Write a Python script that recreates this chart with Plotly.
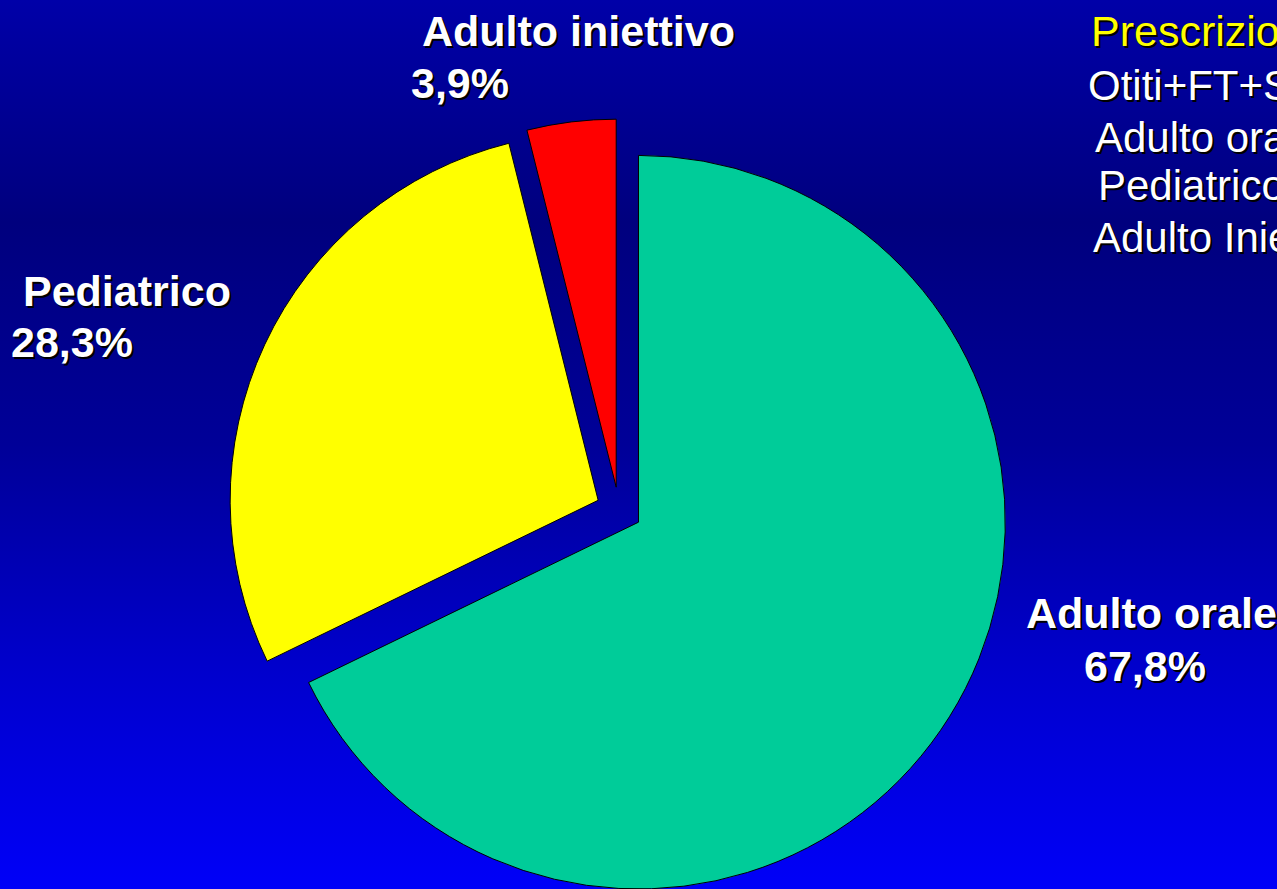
import base64
import math
import plotly.graph_objects as go

# --- data -------------------------------------------------------------
categories = ["Adulto orale", "Pediatrico", "Adulto iniettivo"]
shares = [67.8, 28.3, 3.9]
share_labels = ["67,8%", "28,3%", "3,9%"]
slice_colors = ["#00CC99", "#FFFF00", "#FF0000"]

side_title = "Prescrizioni"
side_lines = ["Otiti+FT+Sinusiti", "Adulto orale", "Pediatrico", "Adulto Iniettivo"]

# --- layout constants (pixels) ---------------------------------------
W, H = 1277, 889
CX, CY = 619, 510      # centre of the un-exploded pie
RADIUS = 368
EXPLODE = 23           # distance each slice is pushed out along its bisector

FONT = "Liberation Sans, Arial, sans-serif"
SHADOW = "2px 2px 0px #000000"

# vertical blue gradient for the page background
grad_svg = f"""<svg xmlns='http://www.w3.org/2000/svg' width='{W}' height='{H}' preserveAspectRatio='none'>
<defs><linearGradient id='g' x1='0' y1='0' x2='0' y2='1'>
<stop offset='0' stop-color='#0000A8'/>
<stop offset='0.25' stop-color='#00007E'/>
<stop offset='0.5' stop-color='#000098'/>
<stop offset='0.75' stop-color='#0000CC'/>
<stop offset='1' stop-color='#0000F8'/>
</linearGradient></defs>
<rect width='{W}' height='{H}' fill='url(#g)'/></svg>"""
grad_src = "data:image/svg+xml;base64," + base64.b64encode(grad_svg.encode()).decode()

fig = go.Figure()

# one pie per slice so every slice can be exploded along its own bisector
total = sum(shares)
start = 0.0
for i, v in enumerate(shares):
    mid = (start + v / 2) / total * 2 * math.pi   # clockwise from 12 o'clock
    start += v
    px = CX + EXPLODE * math.sin(mid)
    py = CY - EXPLODE * math.cos(mid)
    half = min(RADIUS, py, H - py, px, W - px)
    colors = [c if j == i else "rgba(0,0,0,0)" for j, c in enumerate(slice_colors)]
    widths = [1 if j == i else 0 for j in range(len(shares))]
    fig.add_trace(go.Pie(
        labels=categories,
        values=shares,
        sort=False,
        direction="clockwise",
        rotation=0,
        marker=dict(colors=colors, line=dict(color="#000000", width=widths)),
        textinfo="none",
        hoverinfo="label+percent",
        showlegend=False,
        domain=dict(
            x=[(px - half) / W, (px + half) / W],
            y=[1 - (py + half) / H, 1 - (py - half) / H],
        ),
    ))


def add_text(text, x_px, y_px, color="#FFFFFF", bold=True, size=43):
    fig.add_annotation(
        text=text, x=x_px / W, y=1 - y_px / H, xref="paper", yref="paper",
        xanchor="left", yanchor="middle", showarrow=False,
        font=dict(family=FONT, size=size, color=color,
                  weight="bold" if bold else "normal", shadow=SHADOW),
    )


# slice labels: name on the first line, share on the second
label_pos = {
    "Adulto orale": ((1024, 613), (1082, 666)),
    "Pediatrico": ((21, 291), (9, 342)),
    "Adulto iniettivo": ((420, 31), (409, 83)),
}
for name, pct in zip(categories, share_labels):
    (nx, ny), (vx, vy) = label_pos[name]
    add_text(name, nx, ny)
    add_text(pct, vx, vy)

# side text block in the top right corner (runs past the right edge)
add_text(side_title, 1089, 31, color="#FFFF00", bold=False, size=43)
side_pos = [(1086, 86), (1093, 137), (1096, 186), (1091, 238)]
for line, (lx, ly) in zip(side_lines, side_pos):
    add_text(line, lx, ly, bold=False, size=42)

fig.update_layout(
    width=W,
    height=H,
    margin=dict(l=0, r=0, t=0, b=0),
    paper_bgcolor="#00009A",
    plot_bgcolor="rgba(0,0,0,0)",
    images=[dict(source=grad_src, xref="paper", yref="paper", x=0, y=1,
                 sizex=1, sizey=1, xanchor="left", yanchor="top",
                 sizing="stretch", layer="below")],
)

fig.write_html("out.html")
